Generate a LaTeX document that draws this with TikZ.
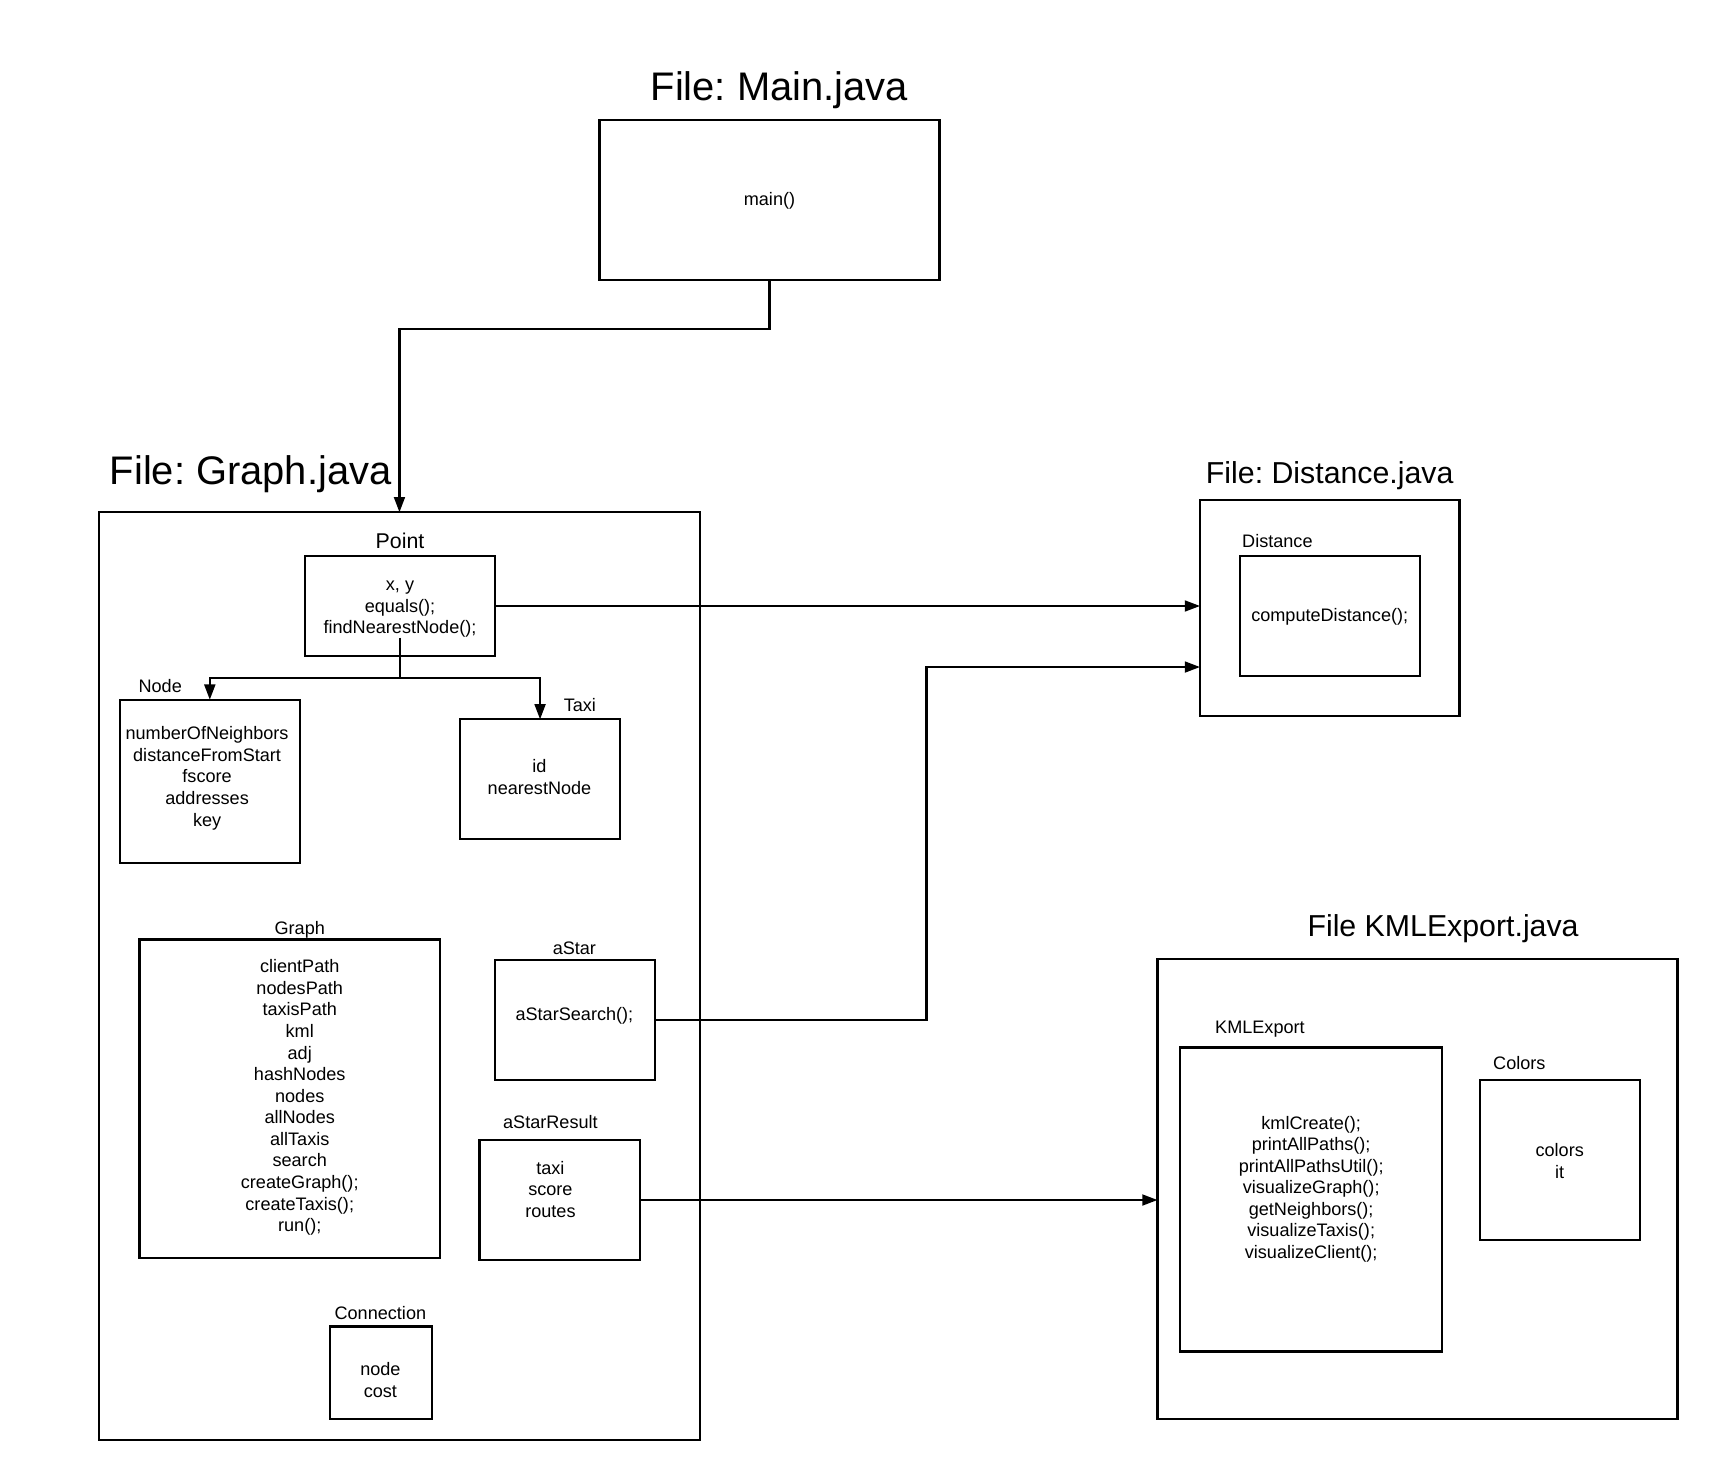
\documentclass[tikz,border=0pt]{standalone}
\usepackage{fontspec}
\setmainfont{Liberation Sans}
\usetikzlibrary{arrows.meta}
\frenchspacing
\begin{document}
\begin{tikzpicture}[x=0.5pt,y=-0.5pt,
  box/.style={draw,line width=1pt,inner sep=0pt,outer sep=0pt},
  txt/.style={font=\fontsize{8.3}{9.9}\selectfont,align=center,inner sep=0pt,yshift=-1.5pt},
  lbl/.style={font=\fontsize{8.3}{9.9}\selectfont,inner sep=0pt,yshift=-1pt},
  bigtitle/.style={font=\fontsize{18.3}{22}\selectfont,inner sep=0pt,yshift=-1.5pt},
  midtitle/.style={font=\fontsize{13.9}{17}\selectfont,inner sep=0pt,yshift=-1.5pt},
  arr/.style={line width=1pt,-{Triangle[length=7pt,width=5pt]}},
  ln/.style={line width=1pt}]
\useasboundingbox (0,0) rectangle (1568,1358);

% Main.java
\node[bigtitle] (tmain) at (715,80) {File: Main.java};
\node[box,minimum width=156pt,minimum height=73.5pt] (main) at (706,183.5) {};
\node[txt] (mainT) at (706,181) {main()};

% Graph.java
\node[bigtitle] (tgraph) at (230,432) {File: Graph.java};
\node[box,minimum width=275.5pt,minimum height=425.5pt] (graphF) at (366.5,895.5) {};

\node[lbl,font=\fontsize{9.8}{11}\selectfont] (lpoint) at (367,494) {Point};
\node[box,minimum width=87pt,minimum height=46pt] (point) at (367,556) {};
\node[txt] (pointT) at (367,556) {x, y\\equals();\\findNearestNode();};

\node[lbl] (lnode) at (147,627) {Node};
\node[box,minimum width=82.5pt,minimum height=75pt] (node) at (192.5,717) {};
\node[txt] (nodeT) at (190,711) {numberOfNeighbors\\distanceFromStart\\fscore\\addresses\\key};

\node[lbl] (ltaxi) at (532,645) {Taxi};
\node[box,minimum width=73.5pt,minimum height=55pt] (taxi) at (495.5,715) {};
\node[txt] (taxiT) at (495,710) {id\\nearestNode};

\node[lbl] (lgraph) at (275,851) {Graph};
\node[box,minimum width=138pt,minimum height=146pt] (graph) at (266,1008) {};
\node[txt] (graphT) at (275,1004) {clientPath\\nodesPath\\taxisPath\\kml\\adj\\hashNodes\\nodes\\allNodes\\allTaxis\\search\\createGraph();\\createTaxis();\\run();};

\node[lbl] (lastar) at (527,868) {aStar};
\node[box,minimum width=73.5pt,minimum height=55pt] (astar) at (527.5,936) {};
\node[txt] (astarT) at (527,929) {aStarSearch();};

\node[lbl] (lastarres) at (505,1027) {aStarResult};
\node[box,minimum width=73.5pt,minimum height=55pt] (astarres) at (513.5,1101) {};
\node[txt] (astarresT) at (505,1088) {taxi\\score\\routes};

\node[lbl] (lconn) at (349,1203) {Connection};
\node[box,minimum width=46.5pt,minimum height=42.5pt] (conn) at (349.5,1259.5) {};
\node[txt] (connT) at (349,1263) {node\\cost};

% Distance.java
\node[midtitle] (tdist) at (1220,433) {File: Distance.java};
\node[box,minimum width=119pt,minimum height=99pt] (distF) at (1220,558) {};
\node[lbl] (ldist) at (1172,494) {Distance};
\node[box,minimum width=82.5pt,minimum height=55pt] (dist) at (1220.5,565) {};
\node[txt] (distT) at (1220,563) {computeDistance();};

% KMLExport.java
\node[midtitle] (tkml) at (1324,849) {File KMLExport.java};
\node[box,minimum width=238.5pt,minimum height=211pt] (kmlF) at (1300.5,1091) {};
\node[lbl] (lkml) at (1156,942) {KMLExport};
\node[box,minimum width=120pt,minimum height=139.5pt] (kml) at (1203,1100.5) {};
\node[txt] (kmlT) at (1203,1088) {kmlCreate();\\printAllPaths();\\printAllPathsUtil();\\visualizeGraph();\\getNeighbors();\\visualizeTaxis();\\visualizeClient();};
\node[lbl] (lcolors) at (1394,973) {Colors};
\node[box,minimum width=73.5pt,minimum height=73.5pt] (colors) at (1431.5,1064.5) {};
\node[txt] (colorsT) at (1431,1062) {colors\\it};

% connectors
\coordinate (mbend) at (706,302);
\draw[arr] (main.south) -- (mbend) -| (graphF.north);

\draw[arr] (point.east) -- (point.east -| distF.west);

\coordinate (pstart) at (367,585);
\coordinate (pfork) at (367,622);
\draw[ln] (pstart) -- (pfork);
\draw[arr] (pfork) -| (node.north);
\draw[arr] (pfork) -| (taxi.north);

\coordinate (abend) at (850,936);
\draw[arr] (astar.east) -- (abend) |- ([yshift=-27pt]distF.west);

\draw[arr] (astarres.east) -- (astarres.east -| kmlF.west);
\end{tikzpicture}
\end{document}
